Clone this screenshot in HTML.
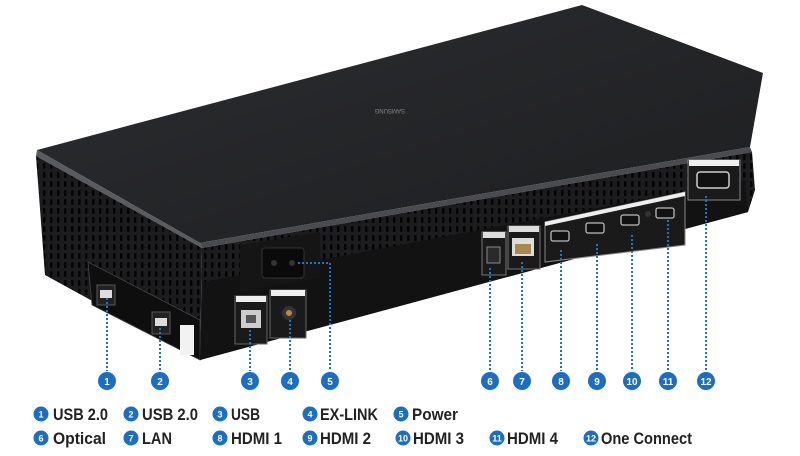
<!DOCTYPE html>
<html><head><meta charset="utf-8"><style>
html,body{margin:0;padding:0;background:#fff;width:800px;height:456px;overflow:hidden}
svg{display:block}
.lg{font-family:"Liberation Sans",sans-serif;font-weight:bold;font-size:17px;fill:#222}
.n{font-family:"Liberation Sans",sans-serif;font-weight:bold;font-size:10px;fill:#fff;text-anchor:middle}
.d{stroke:#1b74c4;stroke-width:2;stroke-dasharray:2 2;fill:none}
</style></head><body>
<svg width="800" height="456" viewBox="0 0 800 456" xmlns="http://www.w3.org/2000/svg">
<defs>
<pattern id="v" width="7" height="9" patternUnits="userSpaceOnUse">
<rect width="7" height="9" fill="#1c1c1e"/><rect x="1" y="1" width="2.5" height="6" rx="1" fill="#030304"/>
</pattern>
<linearGradient id="tg" x1="0" y1="0" x2="1" y2="1"><stop offset="0" stop-color="#2c2d30"/><stop offset="1" stop-color="#1d1e20"/></linearGradient>
</defs>
<polygon points="37,150 582,5 763,73 750,147 200,243" fill="url(#tg)"/>
<polygon points="37,150 200,243 202,248 36,156" fill="#5a5b5e"/>
<polygon points="200,243 750,147 752,152 202,248" fill="#4a4b4e"/>
<text x="405" y="113" font-family="Liberation Sans" font-size="6" fill="#888" transform="rotate(180 405 111)">SAMSUNG</text>
<polygon points="36,156 202,248 200,360 45,275" fill="url(#v)"/>
<polygon points="88,262 200,320 200,360 92,305" fill="#0e0e0f" stroke="#444" stroke-width="0.8"/>
<polygon points="202,248 752,152 755,190 748,212 200,360" fill="url(#v)"/>
<polygon points="203,282 745,180 748,212 200,360" fill="#121213"/>
<polygon points="240,245 320,232 320,278 240,292" fill="#151516"/>
<rect x="97" y="285" width="18" height="20" fill="#222" stroke="#555"/>
<rect x="100" y="290" width="12" height="8" fill="#ddd"/>
<rect x="152" y="312" width="18" height="22" fill="#222" stroke="#555"/>
<rect x="155" y="318" width="12" height="8" fill="#ddd"/>
<rect x="180" y="325" width="14" height="30" fill="#f2f2f2"/>
<rect x="262" y="248" width="42" height="30" rx="3" fill="#0a0a0a" stroke="#333"/>
<circle cx="274" cy="263" r="3" fill="#333"/><circle cx="292" cy="263" r="3" fill="#333"/>
<rect x="235" y="296" width="32" height="48" fill="#1a1a1a" stroke="#666"/>
<rect x="236" y="296" width="30" height="6" fill="#eee"/>
<rect x="241" y="310" width="20" height="18" fill="#ccc"/><rect x="246" y="315" width="10" height="8" fill="#555"/>
<rect x="270" y="290" width="36" height="48" fill="#1a1a1a" stroke="#666"/>
<rect x="271" y="290" width="34" height="6" fill="#eee"/>
<circle cx="289" cy="313" r="7" fill="#333"/><circle cx="289" cy="313" r="3" fill="#b58a4a"/>
<rect x="482" y="232" width="24" height="43" fill="#1a1a1a" stroke="#777"/>
<rect x="483" y="232" width="22" height="6" fill="#ddd"/>
<rect x="487" y="247" width="13" height="16" fill="#2a2a2a" stroke="#888"/>
<rect x="508" y="226" width="32" height="43" fill="#1a1a1a" stroke="#777"/>
<rect x="509" y="226" width="30" height="6" fill="#ddd"/>
<rect x="512" y="238" width="22" height="18" fill="#ddd"/><rect x="515" y="244" width="16" height="10" fill="#a88a4a"/>
<polygon points="545,222 685,192 685,245 545,262" fill="#1a1a1a" stroke="#888"/>
<polygon points="545,222 685,192 685,196 545,226" fill="#eee"/>
<g fill="#111" stroke="#bbb" stroke-width="1.3">
<rect x="551" y="231" width="18" height="10" rx="2"/>
<rect x="586" y="223" width="18" height="10" rx="2"/>
<rect x="621" y="215" width="18" height="10" rx="2"/>
<rect x="656" y="208" width="18" height="10" rx="2"/>
</g>
<circle cx="648" cy="214" r="3" fill="#333"/>
<rect x="688" y="160" width="52" height="40" fill="#1a1a1a" stroke="#888"/>
<rect x="689" y="160" width="50" height="6" fill="#eee"/>
<rect x="697" y="172" width="32" height="16" rx="3" fill="#111" stroke="#ccc" stroke-width="1.5"/>
<path class="d" d="M107,298V371M160,328V371M250,330V371M290,320V371M298,263H330V371M490,268V371M522,262V371M561,250V371M597,244V371M632,235V371M668,220V371M706,196V371"/>
<g fill="#1b6ec2">
<circle cx="107" cy="381" r="9"/><circle cx="160" cy="381" r="9"/><circle cx="250" cy="381" r="9"/><circle cx="290" cy="381" r="9"/><circle cx="330" cy="381" r="9"/>
<circle cx="490" cy="381" r="9"/><circle cx="522" cy="381" r="9"/><circle cx="561" cy="381" r="9"/><circle cx="597" cy="381" r="9"/><circle cx="632" cy="381" r="9"/><circle cx="668" cy="381" r="9"/><circle cx="706" cy="381" r="9"/>
</g>
<g class="n">
<text x="107" y="385">1</text><text x="160" y="385">2</text><text x="250" y="385">3</text><text x="290" y="385">4</text><text x="330" y="385">5</text>
<text x="490" y="385">6</text><text x="522" y="385">7</text><text x="561" y="385">8</text><text x="597" y="385">9</text><text x="632" y="385">10</text><text x="668" y="385">11</text><text x="706" y="385">12</text>
</g>
<g fill="#1b6ec2">
<circle cx="41" cy="414" r="7.5"/><circle cx="131" cy="414" r="7.5"/><circle cx="220" cy="414" r="7.5"/><circle cx="310" cy="414" r="7.5"/><circle cx="401" cy="414" r="7.5"/>
<circle cx="41" cy="438" r="7.5"/><circle cx="131" cy="438" r="7.5"/><circle cx="220" cy="438" r="7.5"/><circle cx="310" cy="438" r="7.5"/><circle cx="403" cy="438" r="7.5"/><circle cx="497" cy="438" r="7.5"/><circle cx="591" cy="438" r="7.5"/>
</g>
<g class="n" style="font-size:9px">
<text x="41" y="417.5">1</text><text x="131" y="417.5">2</text><text x="220" y="417.5">3</text><text x="310" y="417.5">4</text><text x="401" y="417.5">5</text>
<text x="41" y="441.5">6</text><text x="131" y="441.5">7</text><text x="220" y="441.5">8</text><text x="310" y="441.5">9</text><text x="403" y="441.5">10</text><text x="497" y="441.5">11</text><text x="591" y="441.5">12</text>
</g>
<g class="lg">
<text x="53" y="420" textLength="55" lengthAdjust="spacingAndGlyphs">USB 2.0</text>
<text x="142" y="420" textLength="56" lengthAdjust="spacingAndGlyphs">USB 2.0</text>
<text x="231" y="420" textLength="29" lengthAdjust="spacingAndGlyphs">USB</text>
<text x="320" y="420" textLength="58" lengthAdjust="spacingAndGlyphs">EX-LINK</text>
<text x="412" y="420" textLength="46" lengthAdjust="spacingAndGlyphs">Power</text>
<text x="53" y="444" textLength="53" lengthAdjust="spacingAndGlyphs">Optical</text>
<text x="142" y="444" textLength="30" lengthAdjust="spacingAndGlyphs">LAN</text>
<text x="231" y="444" textLength="51" lengthAdjust="spacingAndGlyphs">HDMI 1</text>
<text x="320" y="444" textLength="51" lengthAdjust="spacingAndGlyphs">HDMI 2</text>
<text x="413" y="444" textLength="51" lengthAdjust="spacingAndGlyphs">HDMI 3</text>
<text x="507" y="444" textLength="51" lengthAdjust="spacingAndGlyphs">HDMI 4</text>
<text x="601" y="444" textLength="91" lengthAdjust="spacingAndGlyphs">One Connect</text>
</g>
</svg>
</body></html>
